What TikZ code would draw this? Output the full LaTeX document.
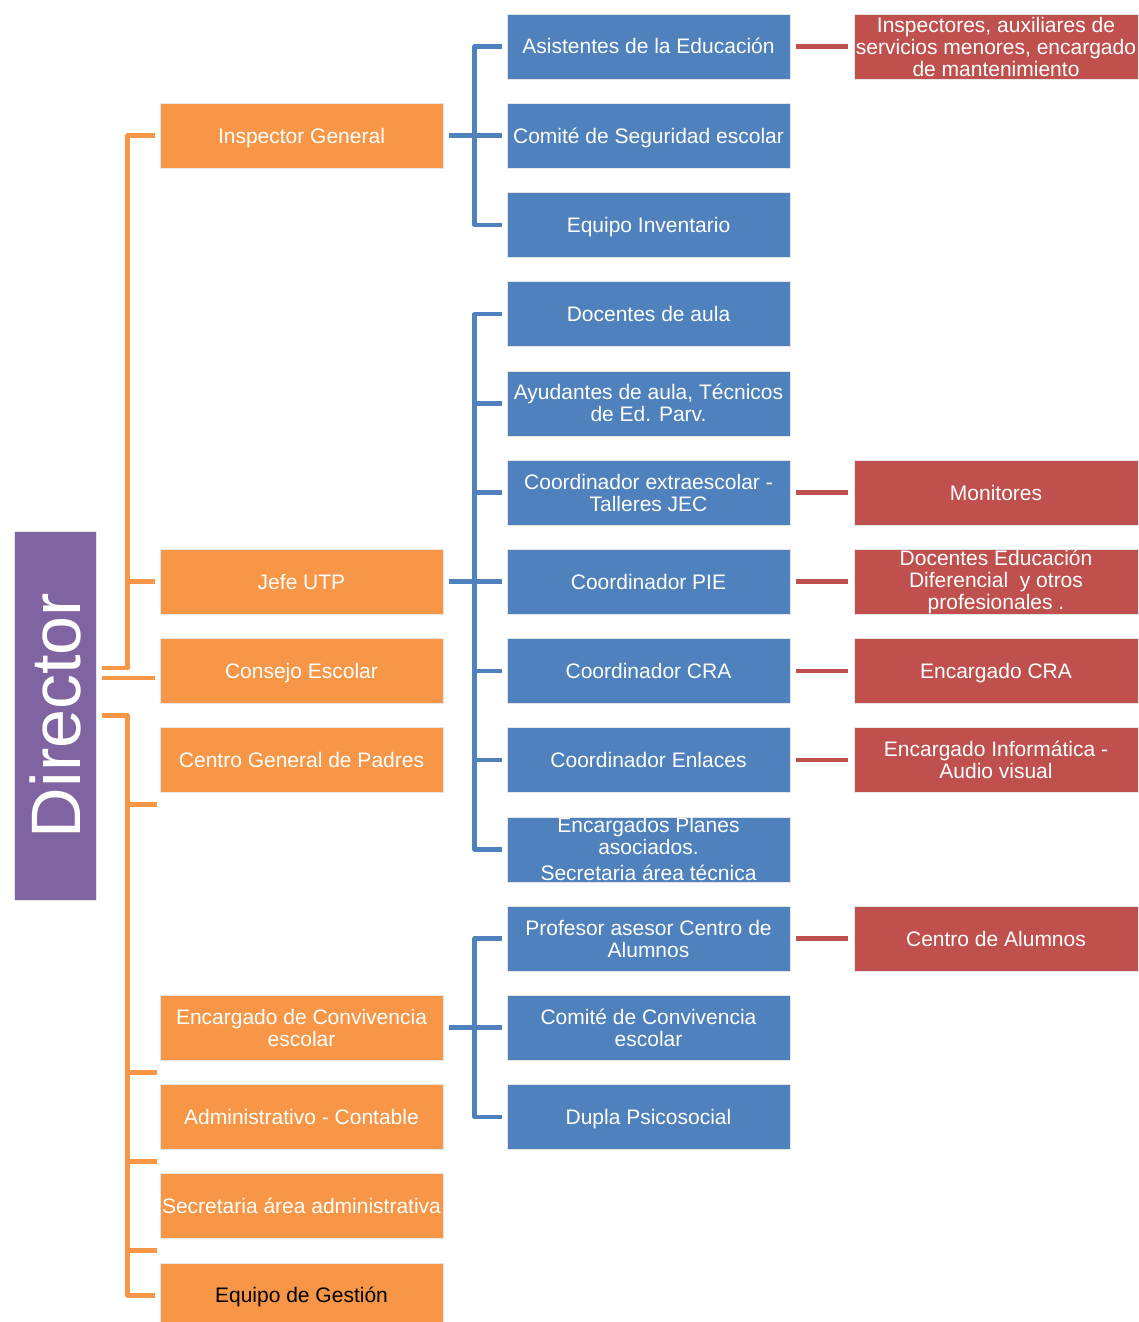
\documentclass[tikz,border=0pt]{standalone}
\usepackage{fontspec}
\setmainfont{Liberation Sans}
\definecolor{cOr}{HTML}{F79646}
\definecolor{cBl}{HTML}{4F81BD}
\definecolor{cRd}{HTML}{C0504D}
\definecolor{cPu}{HTML}{8064A2}
\begin{document}
\begin{tikzpicture}[x=1pt,y=-1pt,
  basebox/.style={minimum width=283pt,minimum height=65pt,inner sep=0pt,align=center,
    text=white,font=\fontsize{21}{22}\selectfont,draw=white!80!gray,line width=0.6pt},
  one/.style={text height=15pt,text depth=0pt},
  orgbox/.style={basebox,fill=cOr},
  bluebox/.style={basebox,fill=cBl},
  redbox/.style={basebox,fill=cRd,minimum width=284pt},
  oline/.style={draw=cOr,line width=4.5pt,line join=round},
  bline/.style={draw=cBl,line width=4.5pt,line join=round},
  rline/.style={draw=cRd,line width=4.5pt},
]
\useasboundingbox (0,0) rectangle (1139,1322);

% Director
\node[fill=cPu,draw=white!80!gray,line width=0.6pt,minimum width=82pt,minimum height=369pt,inner sep=0pt] (dir) at (55,715.5) {};
\node[rotate=90,text=white,font=\fontsize{70}{70}\selectfont,inner sep=0pt] (dirt) at (dir.center) {Director};

% orange column
\node[orgbox,one] (ig)  at (301.5,135.7)  {Inspector General};
\node[orgbox,one] (ju)  at (301.5,581.7)  {Jefe UTP};
\node[orgbox,one] (ce)  at (301.5,670.9)  {Consejo Escolar};
\node[orgbox,one] (cgp) at (301.5,760.1)  {Centro General de Padres};
\node[orgbox] (ecv) at (301.5,1027.7) {Encargado de Convivencia\\escolar};
\node[orgbox,one] (adm) at (301.5,1116.9) {Administrativo - Contable};
\node[orgbox,one] (sec) at (301.5,1206.1) {Secretaria área administrativa};
\node[orgbox,one,text=black] (eg) at (301.5,1295.3) {Equipo de Gestión};

% blue column
\node[bluebox,one] (b0)  at (648.5,46.5)   {Asistentes de la Educación};
\node[bluebox,one] (b1)  at (648.5,135.7)  {Comité de Seguridad escolar};
\node[bluebox,one] (b2)  at (648.5,224.9)  {Equipo Inventario};
\node[bluebox,one] (b3)  at (648.5,314.1)  {Docentes de aula};
\node[bluebox] (b4)  at (648.5,403.3)  {Ayudantes de aula, Técnicos\\de Ed. Parv.};
\node[bluebox] (b5)  at (648.5,492.5)  {Coordinador extraescolar -\\Talleres JEC};
\node[bluebox,one] (b6)  at (648.5,581.7)  {Coordinador PIE};
\node[bluebox,one] (b7)  at (648.5,670.9)  {Coordinador CRA};
\node[bluebox,one] (b8)  at (648.5,760.1)  {Coordinador Enlaces};
\node[bluebox] (b9)  at (648.5,849.3)  {Encargados Planes\\asociados.\\[4pt]Secretaria área técnica};
\node[bluebox] (b10) at (648.5,938.5)  {Profesor asesor Centro de\\Alumnos};
\node[bluebox] (b11) at (648.5,1027.7) {Comité de Convivencia\\escolar};
\node[bluebox,one] (b12) at (648.5,1116.9) {Dupla Psicosocial};

% red column
\node[redbox] (r0)  at (996,46.5)  {Inspectores, auxiliares de\\servicios menores, encargado\\de mantenimiento};
\node[redbox,one] (r5)  at (996,492.5) {Monitores};
\node[redbox] (r6)  at (996,581.7) {Docentes Educación\\Diferencial\ \ y otros\\profesionales .};
\node[redbox,one] (r7)  at (996,670.9) {Encargado CRA};
\node[redbox] (r8)  at (996,760.1) {Encargado Informática -\\Audio visual};
\node[redbox,one] (r10) at (996,938.5) {Centro de Alumnos};

% orange connectors
\draw[oline] ([shift={(6,-47.5)}]dir.east) -| ([xshift=-32pt]ig.west) -- ([xshift=-5pt]ig.west);
\draw[oline] ([xshift=-32pt]ju.west) -- ([xshift=-5pt]ju.west);
\draw[oline] ([shift={(6,-37.5)}]dir.east) -- ([shift={(-5,7.1)}]ce.west);
\draw[oline] ([xshift=6pt]dir.east) -| ([xshift=-32pt]eg.west) -- ([xshift=-5pt]eg.west);
\foreach \n in {cgp,ecv,adm,sec}
  \draw[oline] ([shift={(-32,44.6)}]\n.west) -- ([shift={(-3,44.6)}]\n.west);

% blue connectors
\draw[bline] ([xshift=6pt]ig.east) -- ([xshift=32pt]ig.east);
\draw[bline] ([xshift=-5pt]b0.west) -- ([xshift=-32pt]b0.west) -- ([xshift=-32pt]b2.west) -- ([xshift=-5pt]b2.west);
\draw[bline] ([xshift=-32pt]b1.west) -- ([xshift=-5pt]b1.west);

\draw[bline] ([xshift=6pt]ju.east) -- ([xshift=32pt]ju.east);
\draw[bline] ([xshift=-5pt]b3.west) -- ([xshift=-32pt]b3.west) -- ([xshift=-32pt]b9.west) -- ([xshift=-5pt]b9.west);
\foreach \n in {b4,b5,b6,b7,b8}
  \draw[bline] ([xshift=-32pt]\n.west) -- ([xshift=-5pt]\n.west);

\draw[bline] ([xshift=6pt]ecv.east) -- ([xshift=32pt]ecv.east);
\draw[bline] ([xshift=-5pt]b10.west) -- ([xshift=-32pt]b10.west) -- ([xshift=-32pt]b12.west) -- ([xshift=-5pt]b12.west);
\draw[bline] ([xshift=-32pt]b11.west) -- ([xshift=-5pt]b11.west);

% red connectors
\foreach \a/\b in {b0/r0,b5/r5,b6/r6,b7/r7,b8/r8,b10/r10}
  \draw[rline] ([xshift=6pt]\a.east) -- ([xshift=-6pt]\b.west);
\end{tikzpicture}
\end{document}
